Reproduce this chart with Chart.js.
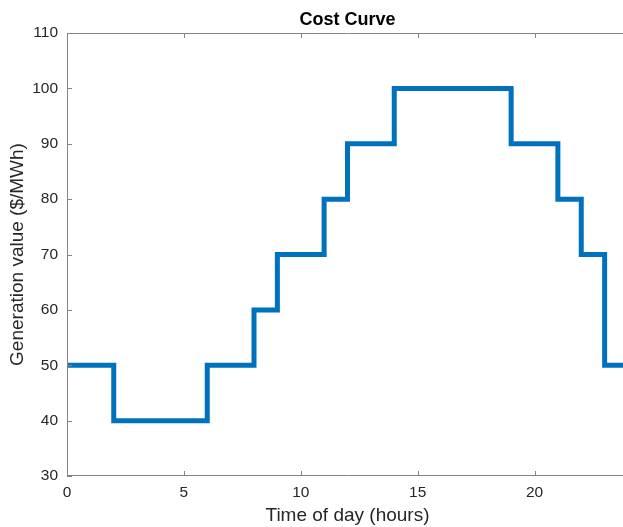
<!DOCTYPE html>
<html>
<head>
<meta charset="utf-8">
<script src="https://cdn.jsdelivr.net/npm/chart.js@4"></script>
<style>
    html, body { margin: 0; padding: 0; background: #fff; overflow: hidden; }
    #wrap { width: 623px; height: 527px; overflow: hidden; }
</style>
</head>
<body>
<div id="wrap"><canvas id="grafica" width="640" height="527"></canvas></div>
<script>
// step breakpoints (hour) and the value held from that hour on
const horas = [0, 2, 6, 8, 9, 11, 12, 14, 19, 21, 22, 23, 24];
const valores = [50, 40, 50, 60, 70, 80, 90, 100, 90, 80, 70, 50, 50];
const ticksX = [0, 5, 10, 15, 20];
const ticksY = [30, 40, 50, 60, 70, 80, 90, 100, 110];
const titulo = 'Cost Curve';

const AZUL = '#0072BD';
const GRIS_EJE = '#848484';
const TEXTO = '#262626';
const FUENTE = '"Liberation Sans", Arial, sans-serif';

// box around the plot + inward tick marks, like matlab
const cajaEjes = {
    id: 'cajaEjes',
    afterDraw(chart) {
        const { ctx, chartArea: a, scales } = chart;
        const largo = 5;
        ctx.save();
        ctx.strokeStyle = GRIS_EJE;
        ctx.lineWidth = 1;
        ctx.beginPath();
        ctx.rect(a.left + 0.5, a.top + 0.5, a.right - a.left - 1, a.bottom - a.top - 1);
        ticksX.forEach(v => {
            const x = Math.round(scales.x.getPixelForValue(v)) + 0.5;
            ctx.moveTo(x, a.bottom);
            ctx.lineTo(x, a.bottom - largo);
            ctx.moveTo(x, a.top);
            ctx.lineTo(x, a.top + largo);
        });
        ticksY.forEach(v => {
            const y = Math.round(scales.y.getPixelForValue(v)) + 0.5;
            ctx.moveTo(a.left, y);
            ctx.lineTo(a.left + largo, y);
            ctx.moveTo(a.right, y);
            ctx.lineTo(a.right - largo, y);
        });
        ctx.stroke();

        // title centred over the axes, not over the canvas
        ctx.fillStyle = '#000';
        ctx.font = 'bold 18px ' + FUENTE;
        ctx.textAlign = 'center';
        ctx.textBaseline = 'alphabetic';
        ctx.fillText(titulo, (a.left + a.right) / 2, 25);
        ctx.restore();
    }
};

const ctx = document.getElementById('grafica').getContext('2d');
const puntos = horas.map((h, i) => ({ x: h, y: valores[i] }));

new Chart(ctx, {
    type: 'line',
    data: {
        datasets: [{
            data: puntos,
            borderColor: AZUL,
            borderWidth: 5,
            pointRadius: 0,
            stepped: 'before',
            fill: false,
            clip: false
        }]
    },
    options: {
        responsive: false,
        animation: false,
        layout: { padding: { top: 33, right: 12, bottom: 0, left: 0 } },
        plugins: {
            legend: { display: false },
            tooltip: { enabled: false },
            title: { display: false }
        },
        scales: {
            x: {
                type: 'linear',
                min: 0,
                max: 24,
                afterBuildTicks: s => { s.ticks = ticksX.map(v => ({ value: v })); },
                afterFit: s => { s.height = 51; },
                grid: { display: false, drawTicks: false },
                border: { display: false },
                ticks: { color: TEXTO, font: { family: FUENTE, size: 15.5 }, padding: 7 },
                title: {
                    display: true,
                    text: 'Time of day (hours)',
                    color: TEXTO,
                    font: { family: FUENTE, size: 19 },
                    padding: { top: 0, bottom: 0 }
                }
            },
            y: {
                min: 30,
                max: 110,
                afterBuildTicks: s => { s.ticks = ticksY.map(v => ({ value: v })); },
                afterFit: s => { s.width = 67; },
                grid: { display: false, drawTicks: false },
                border: { display: false },
                ticks: { color: TEXTO, font: { family: FUENTE, size: 15.5 }, padding: 9 },
                title: {
                    display: true,
                    text: 'Generation value ($/MWh)',
                    color: TEXTO,
                    font: { family: FUENTE, size: 19 },
                    padding: { top: 6, bottom: 0 }
                }
            }
        }
    },
    plugins: [cajaEjes]
});
</script>
</body>
</html>
